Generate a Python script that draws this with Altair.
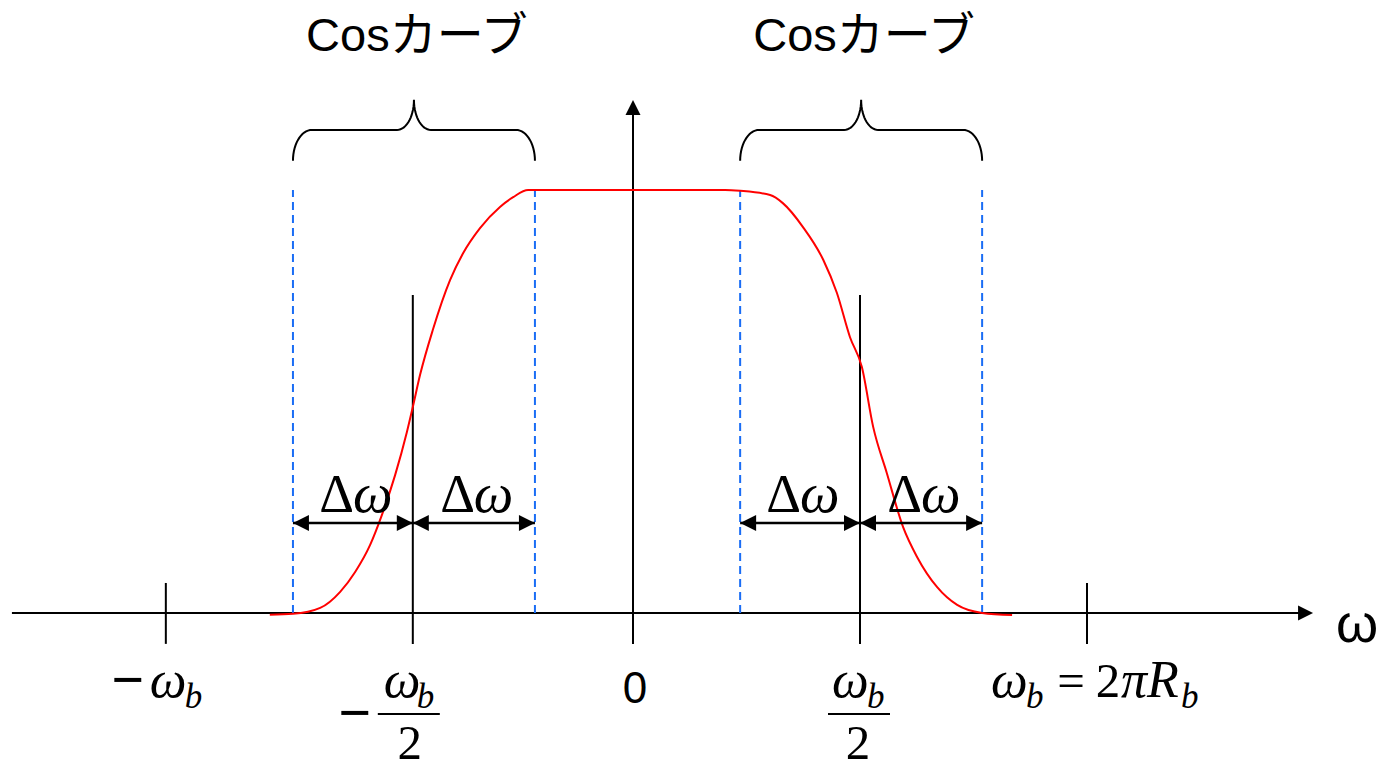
import altair as alt
import numpy as np
import pandas as pd

# ---- values (ω in units of ω_b, amplitude normalised to the flat top) ----
tick_full = [-1.029, 1.0]          # −ω_b, ω_b
tick_half = [-0.485, 0.5]          # −ω_b/2, ω_b/2
rolloff_edges = [-0.749, -0.216, 0.236, 0.769]

curve_w = [-0.800, -0.749, -0.689, -0.645, -0.612, -0.579, -0.553, -0.524,
           -0.498, -0.485, -0.469, -0.441, -0.403, -0.374, -0.337, -0.293,
           -0.264, -0.231, 0.203, 0.236, 0.302, 0.330, 0.374, 0.419, 0.449,
           0.478, 0.504, 0.529, 0.559, 0.595, 0.626, 0.670, 0.714, 0.769, 0.835]
curve_h = [-0.004, -0.002, 0.012, 0.050, 0.097, 0.161, 0.232, 0.326,
           0.428, 0.487, 0.563, 0.669, 0.787, 0.851, 0.910, 0.960,
           0.983, 1.0, 1.0, 0.998, 0.988, 0.969, 0.913, 0.835, 0.757,
           0.652, 0.582, 0.440, 0.331, 0.203, 0.132, 0.061, 0.019, 0.0, -0.005]

brace_title = "Cosカーブ"
delta_label = ("Δ", "ω")

# ---- layout ----
W, H = 1379, 771
PX = 1 / 454.0      # one pixel along ω
PY = 1 / 423.0      # one pixel along amplitude
XD = [-633 * PX, (W - 633) * PX]
YD = [-(H - 613) * PY, 613 * PY]

SERIF = "'Liberation Serif', 'Times New Roman', serif"
SANS = "'Liberation Sans', Arial, 'Noto Sans CJK JP', sans-serif"

AX_LEFT, AX_RIGHT, AX_TIP = -1.368, 1.47, 1.498
Y_AX_LOW, Y_AX_TOP, Y_AX_TIP = -0.073, 1.18, 1.213
TICK_LOW, TICK_HIGH, HALF_HIGH = -0.073, 0.071, 0.752
ARROW_Y = 0.213
BR_Y0, BR_Y1, BR_Y2 = 1.069, 1.142, 1.213
BR_END, BR_TIP = 19 * PX, 17 * PX

LBL_BASE, LBL_SUB, LBL_BAR, LBL_DEN = -0.199, -0.225, -0.239, -0.346
LBL_MINUS_A, LBL_MINUS_B = -0.203, -0.281


def xs(field):
    return alt.X(field, type="quantitative",
                 scale=alt.Scale(domain=XD, nice=False, zero=False), axis=None)


def ys(field):
    return alt.Y(field, type="quantitative",
                 scale=alt.Scale(domain=YD, nice=False, zero=False), axis=None)


layers = []

# axes
axis_df = pd.DataFrame({"x0": [AX_LEFT, 0.0], "x1": [AX_RIGHT, 0.0],
                        "y0": [0.0, Y_AX_LOW], "y1": [0.0, Y_AX_TOP]})
layers.append(alt.Chart(axis_df).mark_rule(color="black", strokeWidth=2).encode(
    x=xs("x0"), x2="x1", y=ys("y0"), y2="y1"))

# ticks at ±ω_b and long markers at ±ω_b/2
tick_df = pd.DataFrame({
    "x": tick_full + tick_half,
    "y0": [TICK_LOW] * 4,
    "y1": [TICK_HIGH] * 2 + [HALF_HIGH] * 2,
})
layers.append(alt.Chart(tick_df).mark_rule(color="black", strokeWidth=2).encode(
    x=xs("x"), y=ys("y0"), y2="y1"))

# roll-off edges (dashed)
edge_df = pd.DataFrame({"x": rolloff_edges, "y0": 0.0, "y1": 1.0})
layers.append(alt.Chart(edge_df).mark_rule(color="#1a6df5", strokeWidth=2,
                                           strokeDash=[8, 5]).encode(
    x=xs("x"), y=ys("y0"), y2="y1"))

# raised-cosine spectrum
curve_df = pd.DataFrame({"w": curve_w, "h": curve_h, "i": range(len(curve_w))})
layers.append(alt.Chart(curve_df).mark_line(color="#ff0000", strokeWidth=2,
                                            interpolate="monotone").encode(
    x=xs("w"), y=ys("h"), order="i"))

# axis arrowheads
head_right = "M0,0L-1,-0.5L-1,0.5Z"
head_left = "M0,0L1,-0.5L1,0.5Z"
head_up = "M0,0L-0.5,1L0.5,1Z"
layers.append(alt.Chart(pd.DataFrame({"x": [AX_TIP], "y": [0.0]})).mark_point(
    shape=head_right, filled=True, color="black", opacity=1, size=900).encode(
    x=xs("x"), y=ys("y")))
layers.append(alt.Chart(pd.DataFrame({"x": [0.0], "y": [Y_AX_TIP]})).mark_point(
    shape=head_up, filled=True, color="black", opacity=1, size=900).encode(
    x=xs("x"), y=ys("y")))

# Δω dimension arrows
segs = [(rolloff_edges[0], tick_half[0]), (tick_half[0], rolloff_edges[1]),
        (rolloff_edges[2], tick_half[1]), (tick_half[1], rolloff_edges[3])]
seg_df = pd.DataFrame({"x0": [s[0] for s in segs], "x1": [s[1] for s in segs],
                       "y": ARROW_Y})
layers.append(alt.Chart(seg_df).mark_rule(color="black", strokeWidth=2.5).encode(
    x=xs("x0"), x2="x1", y=ys("y")))
layers.append(alt.Chart(seg_df).mark_point(
    shape=head_left, filled=True, color="black", opacity=1, size=1024).encode(
    x=xs("x0"), y=ys("y")))
layers.append(alt.Chart(seg_df).mark_point(
    shape=head_right, filled=True, color="black", opacity=1, size=1024).encode(
    x=xs("x1"), y=ys("y")))

mid_df = pd.DataFrame({"x": [(a + b) / 2 for a, b in segs], "y": 0.239})
layers.append(alt.Chart(mid_df).mark_text(
    text=delta_label[0], font=SERIF, fontSize=54, align="right", dx=1,
    baseline="alphabetic", color="black").encode(x=xs("x"), y=ys("y")))
layers.append(alt.Chart(mid_df).mark_text(
    text=delta_label[1], font=SERIF, fontStyle="italic", fontSize=56,
    align="left", baseline="alphabetic", color="black").encode(x=xs("x"), y=ys("y")))


# curly braces over the roll-off bands
def brace_path(a, b):
    t = np.linspace(0, np.pi / 2, 16)
    m = (a + b) / 2
    px = np.concatenate([a + BR_END - BR_END * np.cos(t),
                         m - BR_TIP + BR_TIP * np.sin(t)])
    py = np.concatenate([BR_Y0 + (BR_Y1 - BR_Y0) * np.sin(t),
                         BR_Y2 - (BR_Y2 - BR_Y1) * np.cos(t)])
    px = np.concatenate([px, (a + b) - px[::-1][1:]])
    py = np.concatenate([py, py[::-1][1:]])
    return px, py


spans = [(rolloff_edges[0], rolloff_edges[1]), (rolloff_edges[2], rolloff_edges[3])]
rows = []
for k, (a, b) in enumerate(spans):
    bx, by = brace_path(a, b)
    for j, (u, v) in enumerate(zip(bx, by)):
        rows.append({"x": u, "y": v, "b": k, "i": j})
brace_df = pd.DataFrame(rows)
layers.append(alt.Chart(brace_df).mark_line(color="black", strokeWidth=2).encode(
    x=xs("x"), y=ys("y"), detail="b:N", order="i"))

title_df = pd.DataFrame({"x": [(a + b) / 2 + 3 * PX for a, b in spans], "y": 1.329,
                         "t": brace_title})
layers.append(alt.Chart(title_df).mark_text(
    font=SANS, fontSize=47, align="center", baseline="alphabetic",
    color="black").encode(x=xs("x"), y=ys("y"), text="t"))

# tick labels, assembled from pieces placed relative to each tick
t_mw, t_hw, t_pw, t_fw = tick_full[0], tick_half[0], tick_half[1], tick_full[1]
minus = [(t_mw, -38, LBL_MINUS_A, "−"), (t_hw, -58, LBL_MINUS_B, "−")]
upright = [(t_hw, -3, LBL_DEN, "2"), (t_pw, -2, LBL_DEN, "2"),
           (t_fw, -16, LBL_BASE, "="), (t_fw, 21, LBL_BASE, "2")]
italic = [(t_mw, -16, LBL_BASE, "ω"), (t_hw, -29, LBL_BASE, "ω"),
          (t_pw, -28, LBL_BASE, "ω"), (t_fw, -96, LBL_BASE, "ω"),
          (t_fw, 34, LBL_BASE, "πR")]
subs = [(t_mw, 19, LBL_SUB, "b"), (t_hw, 4, LBL_SUB, "b"),
        (t_pw, 7, LBL_SUB, "b"), (t_fw, -61, LBL_SUB, "b"),
        (t_fw, 94, LBL_SUB, "b")]


def piece_df(items):
    return pd.DataFrame({"x": [t + d * PX for t, d, _, _ in items],
                         "y": [y for _, _, y, _ in items],
                         "t": [s for _, _, _, s in items]})


layers.append(alt.Chart(piece_df(minus)).mark_text(
    font=SERIF, fontSize=58, fontWeight="bold", align="center",
    baseline="alphabetic", color="black").encode(x=xs("x"), y=ys("y"), text="t"))
layers.append(alt.Chart(piece_df(upright)).mark_text(
    font=SERIF, fontSize=49, align="center", baseline="alphabetic",
    color="black").encode(x=xs("x"), y=ys("y"), text="t"))
layers.append(alt.Chart(piece_df(italic)).mark_text(
    font=SERIF, fontStyle="italic", fontSize=52, align="left",
    baseline="alphabetic", color="black").encode(x=xs("x"), y=ys("y"), text="t"))
layers.append(alt.Chart(piece_df(subs)).mark_text(
    font=SERIF, fontStyle="italic", fontSize=35, align="left",
    baseline="alphabetic", color="black").encode(x=xs("x"), y=ys("y"), text="t"))

# fraction bars
bar_df = pd.DataFrame({"x0": [t_hw - 35 * PX, t_pw - 32 * PX],
                       "x1": [t_hw + 27 * PX, t_pw + 30 * PX], "y": LBL_BAR})
layers.append(alt.Chart(bar_df).mark_rule(color="black", strokeWidth=2).encode(
    x=xs("x0"), x2="x1", y=ys("y")))

# origin and axis name
sans_df = pd.DataFrame({"x": [2 * PX, 1.595], "y": [-0.213, -0.069],
                        "t": ["0", "ω"], "s": [44, 54]})
layers.append(alt.Chart(sans_df).mark_text(
    font=SANS, align="center", baseline="alphabetic", color="black").encode(
    x=xs("x"), y=ys("y"), text="t", size=alt.Size("s:Q", scale=None)))

chart = alt.layer(*layers).properties(
    width=W, height=H, padding=0, autosize=alt.AutoSizeParams(type="none"),
    background="white",
).configure_view(stroke=None)

chart.save("out.html", embed_options={"renderer": "svg", "actions": False})
